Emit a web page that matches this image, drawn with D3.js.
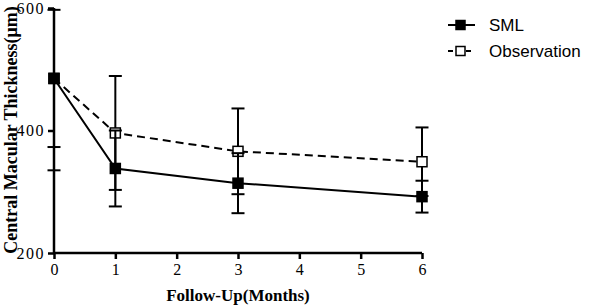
<!DOCTYPE html>
<html>
<head>
  <script src="https://d3js.org/d3.v7.min.js"></script>
  <style>
    body { margin: 0; background: #fff; }
  </style>
</head>
<body>
<svg width="595" height="306"></svg>
<script>
  // data
  var months = [0, 1, 3, 6];
  var smlMean = [485, 338, 314, 292];
  var smlSd = [150, 62, 49, 26];
  var obsMean = [485, 396, 366, 349];
  var obsSd = [112, 93, 70, 56];
  var xTicks = [0, 1, 2, 3, 4, 5, 6];
  var yTicks = [200, 400, 600];

  var svg = d3.select("svg");
  var x = d3.scaleLinear().domain([0, 6]).range([54, 422]);
  var y = d3.scaleLinear().domain([200, 600]).range([253, 8]);

  var serif = "'Liberation Serif', 'DejaVu Serif', serif";

  // clip so error bars above 600 are cut
  svg.append("clipPath").attr("id", "plotclip")
    .append("rect").attr("x", 40).attr("y", y(600)).attr("width", 420).attr("height", y(200) - y(600) + 10);

  var plot = svg.append("g").attr("clip-path", "url(#plotclip)");

  function drawSeries(mean, sd, dashed, filled) {
    var pts = months.map(function(m, i) { return { m: m, v: mean[i], e: sd[i] }; });
    var line = d3.line().x(function(d) { return x(d.m); }).y(function(d) { return y(d.v); });

    // error bars
    var eb = plot.append("g");
    pts.forEach(function(d) {
      eb.append("line")
        .attr("x1", x(d.m)).attr("x2", x(d.m))
        .attr("y1", y(d.v - d.e)).attr("y2", y(d.v + d.e))
        .attr("stroke", "#000").attr("stroke-width", 2);
      [d.v - d.e, d.v + d.e].forEach(function(c) {
        eb.append("line")
          .attr("x1", x(d.m) - 6.5).attr("x2", x(d.m) + 6.5)
          .attr("y1", y(c)).attr("y2", y(c))
          .attr("stroke", "#000").attr("stroke-width", 2);
      });
    });

    plot.append("path").datum(pts)
      .attr("d", line)
      .attr("fill", "none")
      .attr("stroke", "#000")
      .attr("stroke-width", 2)
      .attr("stroke-dasharray", dashed ? "8,5" : null);

    plot.selectAll(null).data(pts).enter().append("rect")
      .attr("x", function(d) { return x(d.m) - 5; })
      .attr("y", function(d) { return y(d.v) - 5; })
      .attr("width", 10).attr("height", 10)
      .attr("fill", filled ? "#000" : "#fff")
      .attr("stroke", "#000").attr("stroke-width", 1.5);
  }

  drawSeries(obsMean, obsSd, true, false);
  drawSeries(smlMean, smlSd, false, true);

  // axes
  var xAxis = svg.append("g")
    .attr("transform", "translate(0," + y(200) + ")")
    .call(d3.axisBottom(x).tickValues(xTicks).tickSize(6).tickPadding(5).tickFormat(d3.format("d")));
  var yAxis = svg.append("g")
    .attr("transform", "translate(" + x(0) + ",0)")
    .call(d3.axisLeft(y).tickValues(yTicks).tickSize(6).tickPadding(3).tickFormat(d3.format("d")));

  [xAxis, yAxis].forEach(function(a) {
    a.select(".domain").attr("stroke", "#000").attr("stroke-width", 2.5);
    a.selectAll(".tick line").attr("stroke", "#000").attr("stroke-width", 2.5);
    a.selectAll(".tick text")
      .attr("fill", "#000")
      .style("font-family", serif)
      .style("font-size", "16px");
  });
  yAxis.selectAll(".tick text").style("letter-spacing", "1.5px");
  xAxis.select(".domain").attr("d", "M" + x(0) + ",0H" + x(6));
  yAxis.select(".domain").attr("d", "M0," + y(600) + "V" + y(200));

  // axis titles
  svg.append("text")
    .attr("x", 238).attr("y", 301)
    .attr("text-anchor", "middle")
    .style("font-family", serif)
    .style("font-weight", "bold")
    .style("font-size", "17px")
    .text("Follow-Up(Months)");

  svg.append("text")
    .attr("transform", "translate(17,130) rotate(-90)")
    .attr("text-anchor", "middle")
    .style("font-family", serif)
    .style("font-weight", "bold")
    .style("font-size", "18px")
    .text("Central Macular Thickness(μm)");

  // legend
  var legendNames = ["SML", "Observation"];
  var legend = svg.append("g");
  legendNames.forEach(function(name, i) {
    var ly = 25 + i * 26;
    var g = legend.append("g");
    g.append("line")
      .attr("x1", 448).attr("x2", 475).attr("y1", ly).attr("y2", ly)
      .attr("stroke", "#000").attr("stroke-width", 2)
      .attr("stroke-dasharray", i === 1 ? "5,4" : null);
    g.append("rect")
      .attr("x", 456).attr("y", ly - 4.5).attr("width", 9).attr("height", 9)
      .attr("fill", i === 0 ? "#000" : "#fff")
      .attr("stroke", "#000").attr("stroke-width", 1.5);
    g.append("text")
      .attr("x", 489).attr("y", ly + 6)
      .style("font-family", "'Liberation Sans', Arial, sans-serif")
      .style("font-size", "17px")
      .text(name);
  });
</script>
</body>
</html>
